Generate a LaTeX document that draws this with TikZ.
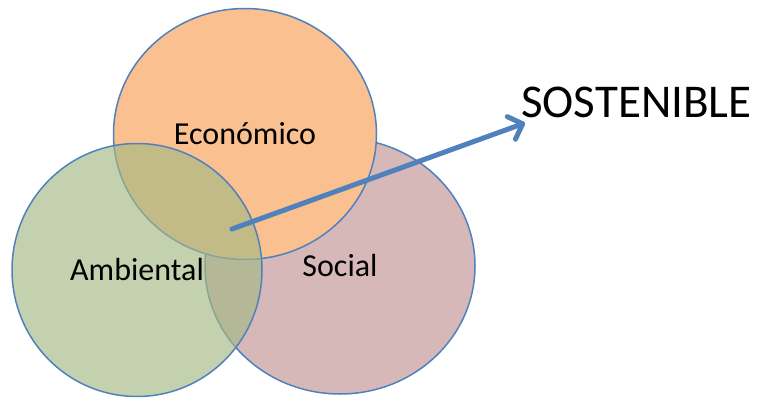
\documentclass[tikz,border=0pt]{standalone}
\usepackage{fontspec}
\setmainfont{Carlito}
\usetikzlibrary{arrows.meta,shapes.geometric}
\definecolor{setline}{RGB}{79,129,189}
\definecolor{ecofill}{RGB}{250,192,143}
\definecolor{socfill}{RGB}{214,184,185}
\definecolor{ambfill}{RGB}{164,184,132}

\begin{document}
\begin{tikzpicture}[x=1pt,y=-1pt,
	set node/.style={ellipse,draw=setline,line width=1.5pt,inner sep=0pt,font=\fontsize{32}{38}\selectfont},
	goal arrow/.style={-{Straight Barb[round,length=12pt,width=24pt]},line width=5pt,line cap=round,setline}]
	\useasboundingbox (0,0) rectangle (757,398);
	% the three sets
	\node[set node,fill=socfill,minimum width=270pt,minimum height=256pt] (soc) at (340,266) {Social};
	\node[set node,fill=ecofill,minimum width=263pt,minimum height=251pt] (eco) at (245,134) {Económico};
	\node[set node,fill=ambfill,fill opacity=0.65,text opacity=1,minimum width=250pt,minimum height=253pt] (amb) at (137,270) {Ambiental};
	
	\node[anchor=base west,inner sep=0pt,font=\fontsize{47}{54}\selectfont] (sost) at (521,118) {SOSTENIBLE};
	\coordinate (core) at (232,229);
	\coordinate (tip) at (525,123);
	\draw[goal arrow] (core) -- (tip);
\end{tikzpicture}
\end{document}
